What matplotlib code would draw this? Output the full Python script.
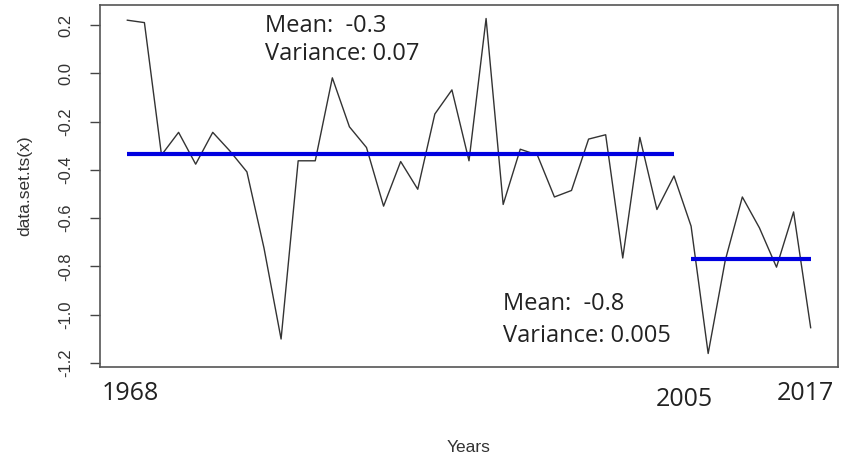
import matplotlib
matplotlib.use("Agg")
import matplotlib.pyplot as plt

# ---- data ----
index = list(range(1, 42))
values = [0.221, 0.211, -0.338, -0.244, -0.376, -0.244, -0.321, -0.408, -0.724, -1.101,
          -0.362, -0.362, -0.018, -0.221, -0.307, -0.550, -0.365, -0.480, -0.168, -0.068,
          -0.362, 0.228, -0.543, -0.314, -0.338, -0.512, -0.485, -0.272, -0.254, -0.765,
          -0.265, -0.564, -0.425, -0.633, -1.161, -0.775, -0.512, -0.640, -0.803, -0.574,
          -1.054]
seg1_range = (1, 33)
seg1_mean = -0.335
seg2_range = (34, 41)
seg2_mean = -0.768
year_labels = ["1968", "2005", "2017"]
year_pos = [1.2, 33.6, 40.7]
yticks = [0.2, 0.0, -0.2, -0.4, -0.6, -0.8, -1.0, -1.2]
ann1 = ["Mean:  -0.3", "Variance: 0.07"]
ann2 = ["Mean:  -0.8", "Variance: 0.005"]

W, H = 842, 462
fig = plt.figure(figsize=(W / 100, H / 100), dpi=100)
ax = fig.add_axes([100 / W, 1 - 367 / H, (838 - 100) / W, (367 - 5) / H])

ax.plot(index, values, color="#333333", lw=1.0)
ax.plot(seg1_range, [seg1_mean, seg1_mean], color="#0000e0", lw=3.0, solid_capstyle="butt")
ax.plot(seg2_range, [seg2_mean, seg2_mean], color="#0000e0", lw=3.0, solid_capstyle="butt")

ax.set_xlim(-0.6, 42.6)
ax.set_ylim(-1.217, 0.284)
ax.set_xticks([])
ax.set_yticks(yticks)
ax.set_yticklabels([f"{t:.1f}" for t in yticks], rotation=90, va="center",
                   family="Liberation Sans", fontsize=12, color="#333333")
ax.tick_params(axis="y", length=7, width=1.0, color="#444444", pad=12)
for s in ax.spines.values():
    s.set_color("#555555")
    s.set_linewidth(1.2)

ax.set_ylabel("data.set.ts(x)", family="Liberation Sans", fontsize=12.5, color="#333333")
ax.yaxis.set_label_coords(-0.092, 0.5)

fig.text(469 / W, 1 - 448 / H, "Years", ha="center", va="center",
         family="Liberation Sans", fontsize=12.5, color="#333333")

ann_font = "Open Sans"
ax.text(9.06, 0.171, ann1[0], family=ann_font, fontsize=17, color="#222222", va="baseline")
ax.text(9.06, 0.054, ann1[1], family=ann_font, fontsize=17, color="#222222", va="baseline")
ax.text(23.0, -0.979, ann2[0], family=ann_font, fontsize=17, color="#222222", va="baseline")
ax.text(23.0, -1.1125, ann2[1], family=ann_font, fontsize=17, color="#222222", va="baseline")

year_y = [69, 62, 69]
for lab, xp, yp in zip(year_labels, year_pos, year_y):
    ax.annotate(lab, xy=(xp, yp), xycoords=("data", "figure pixels"), ha="center", va="center",
                family=ann_font, fontsize=18, color="#222222", annotation_clip=False)

fig.savefig("out.png", dpi=100)
